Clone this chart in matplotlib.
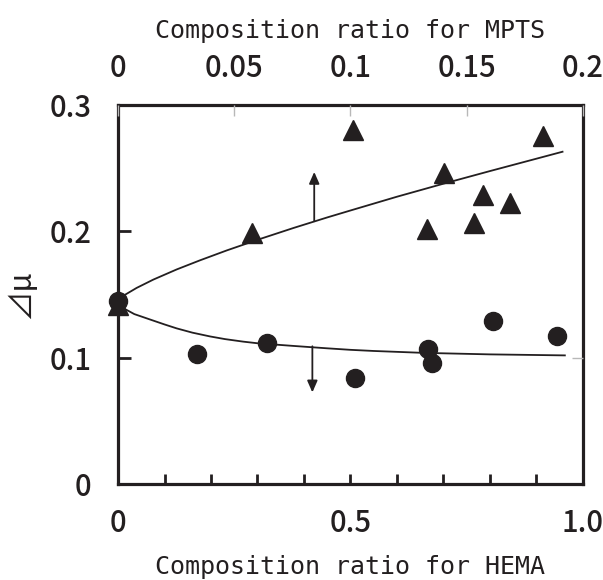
import matplotlib
matplotlib.use("Agg")
import matplotlib.pyplot as plt

# ---------------- data ----------------
# circles: plotted against HEMA composition ratio (bottom axis)
hema_x = [0.0, 0.169, 0.321, 0.510, 0.667, 0.675, 0.807, 0.945]
hema_dmu = [0.145, 0.103, 0.1116, 0.084, 0.107, 0.0955, 0.129, 0.117]

# triangles: plotted against MPTS composition ratio (top axis)
mpts_x = [0.0, 0.0575, 0.101, 0.133, 0.1402, 0.1532, 0.1572, 0.1684, 0.183]
mpts_dmu = [0.142, 0.1987, 0.280, 0.202, 0.246, 0.2063, 0.229, 0.2226, 0.2756]

# trend curves
curve_mpts_x = [0.0, 0.0023, 0.008, 0.0152, 0.0252, 0.0352, 0.0468, 0.061,
                0.0754, 0.09, 0.1, 0.12, 0.14, 0.16, 0.18, 0.1912]
curve_mpts_y = [0.145, 0.149, 0.1552, 0.1618, 0.1698, 0.177, 0.1849, 0.1939,
                0.2026, 0.211, 0.2165, 0.2274, 0.2377, 0.2477, 0.2575, 0.263]
curve_hema_x = [0.0, 0.015, 0.035, 0.069, 0.1, 0.126, 0.16, 0.198, 0.23, 0.269,
                0.3, 0.377, 0.45, 0.5, 0.55, 0.657, 0.8, 0.961]
curve_hema_y = [0.143, 0.1385, 0.1345, 0.1302, 0.1263, 0.1232, 0.1198, 0.1168,
                0.1147, 0.1127, 0.1114, 0.1093, 0.1074, 0.1062, 0.1053, 0.1038,
                0.1026, 0.1018]

# direction arrows (HEMA units for x)
arrow_x = [0.422, 0.418]
arrow_y_start = [0.208, 0.109]
arrow_y_end = [0.247, 0.0725]

# axis ticks / labels
bottom_ticks = [0.0, 0.5, 1.0]
bottom_labels = ["0", "0.5", "1.0"]
bottom_minor = [0.1, 0.2, 0.3, 0.4, 0.6, 0.7, 0.8, 0.9]
top_ticks = [0.0, 0.05, 0.1, 0.15, 0.2]
top_labels = ["0", "0.05", "0.1", "0.15", "0.2"]
y_ticks = [0.0, 0.1, 0.2, 0.3]
y_labels = ["0", "0.1", "0.2", "0.3"]

xlabel_bottom = "Composition ratio for HEMA"
xlabel_top = "Composition ratio for MPTS"
ylabel = "⊿μ"

# ---------------- styling ----------------
INK = "#231f20"
GRAY = "#b8b8b8"
MONO = ["DejaVu Sans Mono"]
GOTHIC = ["Noto Sans CJK JP", "DejaVu Sans"]
TICK_FS = 21
TICK_W = "medium"

fig = plt.figure(figsize=(6.03, 5.8), dpi=100)
ax = fig.add_axes([0.1957, 0.1655, 0.7711, 0.6535])
ax.set_xlim(0, 1.0)
ax.set_ylim(0, 0.3)

ax2 = ax.twiny()
ax2.set_xlim(0, 0.2)

for s in ax.spines.values():
    s.set_linewidth(2.3)
    s.set_color(INK)
for s in ax2.spines.values():
    s.set_visible(False)

# bottom axis
ax.set_xticks(bottom_ticks)
ax.set_xticklabels(bottom_labels, fontfamily=GOTHIC, fontsize=TICK_FS,
                   fontweight=TICK_W, color=INK)
ax.set_xticks(bottom_minor, minor=True)
ax.tick_params(axis="x", which="both", direction="in", length=7, width=2,
               color=INK, pad=17, top=False)
# left axis
ax.set_yticks(y_ticks)
ax.set_yticklabels(y_labels, fontfamily=GOTHIC, fontsize=TICK_FS,
                   fontweight=TICK_W, color=INK)
ax.tick_params(axis="y", direction="in", length=9, width=2, color=INK, pad=19,
               right=False)

# right (light) tick
ax3 = ax.twinx()
ax3.set_ylim(0, 0.3)
ax3.set_yticks([0.1])
ax3.set_yticklabels([""])
ax3.tick_params(axis="y", direction="in", length=8, width=1, color=GRAY)
for s in ax3.spines.values():
    s.set_visible(False)

# top axis
ax2.set_xticks(top_ticks)
ax2.set_xticklabels(top_labels, fontfamily=GOTHIC, fontsize=TICK_FS,
                    fontweight=TICK_W, color=INK)
ax2.tick_params(axis="x", direction="in", length=8, width=1, color=GRAY, pad=15)

ax.set_xlabel(xlabel_bottom, fontfamily=MONO, fontsize=18, color=INK, labelpad=12)
ax2.set_xlabel(xlabel_top, fontfamily=MONO, fontsize=18, color=INK, labelpad=11)
ax.set_ylabel(ylabel, fontfamily=["Noto Sans CJK JP", "DejaVu Sans"], fontsize=22,
              color=INK, labelpad=10)

# curves
ax.plot(curve_hema_x, curve_hema_y, color=INK, lw=1.3, zorder=3)
ax2.plot(curve_mpts_x, curve_mpts_y, color=INK, lw=1.3, zorder=3)

# markers
ax2.plot(mpts_x, mpts_dmu, linestyle="none", marker="^", ms=14.5, color=INK,
         clip_on=False, zorder=4)
ax.plot(hema_x, hema_dmu, linestyle="none", marker="o", ms=13, color=INK,
        clip_on=False, zorder=5)

# arrows
for xa, y0, y1 in zip(arrow_x, arrow_y_start, arrow_y_end):
    ax.annotate("", xy=(xa, y1), xytext=(xa, y0),
                arrowprops=dict(arrowstyle="-|>,head_length=0.5,head_width=0.22",
                                mutation_scale=14, lw=1.3, color=INK,
                                shrinkA=0, shrinkB=0))

fig.savefig("out.png", dpi=100)
